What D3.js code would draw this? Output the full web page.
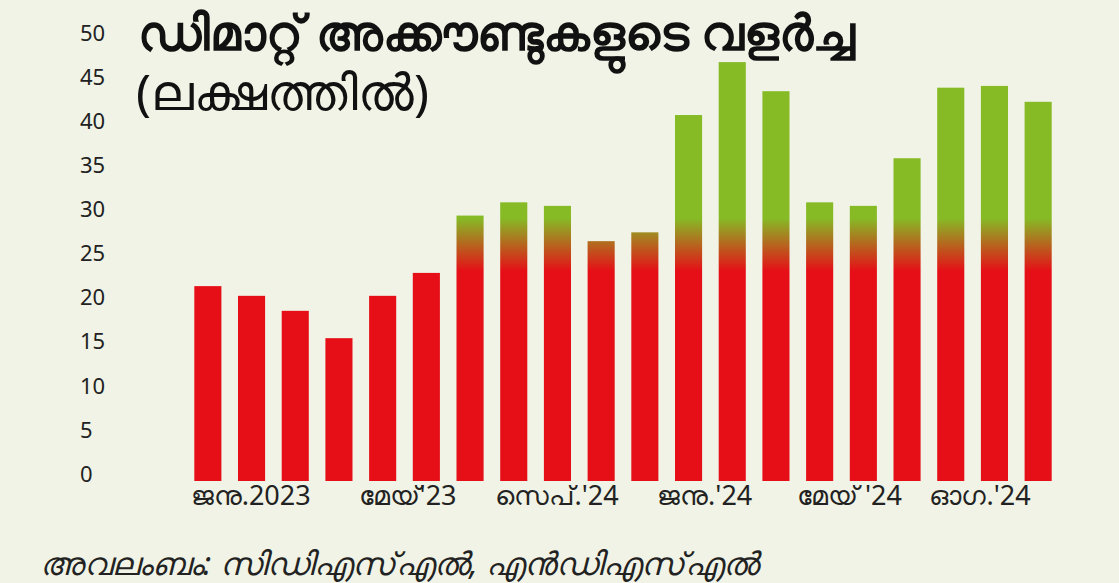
<!DOCTYPE html>
<html><head><meta charset="utf-8">
<script src="https://cdn.jsdelivr.net/npm/d3@7"></script>
<style>body{margin:0;background:#f0f3e5}</style>
</head><body><div id="chart"></div>
<script>
const values = [21.3, 20.2, 18.5, 15.4, 20.2, 22.8, 29.3, 30.8, 30.4, 26.4, 27.4, 40.7, 46.7, 43.4, 30.8, 30.4, 35.8, 43.8, 44.0, 42.2];
const labelText = ["ജനു.2023", "മേയ്'23", "സെപ്.'24", "ജനു.'24", "മേയ് '24", "ഓഗ.'24"];
const labelPos = [0.98, 4.57, 7.99, 11.37, 14.68, 17.67];
const yTicks = [0, 5, 10, 15, 20, 25, 30, 35, 40, 45, 50];

const width = 1119, height = 583;
const font = "'Noto Sans', 'DejaVu Sans', sans-serif";

const svg = d3.select('#chart').append('svg')
  .attr('width', width).attr('height', height)
  .style('background', '#f0f3e5');

const x = d3.scaleBand().domain(d3.range(values.length))
  .range([186, 1060]).paddingInner(0.38).paddingOuter(0.19);
const xi = d3.scaleLinear().domain([0, values.length - 1])
  .range([x(0) + x.bandwidth() / 2, x(values.length - 1) + x.bandwidth() / 2]);
const y = d3.scaleLinear().domain([0, 50]).range([474, 33]);
const base = 481;

const grad = svg.append('defs').append('linearGradient')
  .attr('id', 'g').attr('gradientUnits', 'userSpaceOnUse')
  .attr('x1', 0).attr('x2', 0).attr('y1', y(0)).attr('y2', y(50));
grad.append('stop').attr('offset', (y(0) - y(23)) / (y(0) - y(50))).attr('stop-color', '#e60f17');
grad.append('stop').attr('offset', (y(0) - y(29)) / (y(0) - y(50))).attr('stop-color', '#86bb26');

svg.append('g').selectAll('rect').data(values).join('rect')
  .attr('x', (d, i) => x(i)).attr('width', x.bandwidth())
  .attr('y', d => y(d)).attr('height', d => base - y(d))
  .attr('fill', 'url(#g)');

svg.append('g').selectAll('text').data(yTicks).join('text')
  .attr('x', 80).attr('y', d => y(d)).attr('dy', '0.35em')
  .attr('font-family', font).attr('font-size', 22).attr('fill', '#222')
  .text(d => d);

svg.append('g').selectAll('text').data(labelText).join('text')
  .attr('x', (d, i) => xi(labelPos[i])).attr('y', 505)
  .attr('text-anchor', 'middle')
  .attr('font-family', font).attr('font-size', 27).attr('fill', '#222')
  .text(d => d);

svg.append('text').attr('x', 138).attr('y', 50)
  .attr('font-family', font).attr('font-size', 49).attr('font-weight', 'bold')
  .attr('fill', '#111').text('ഡിമാറ്റ് അക്കൗണ്ടുകളുടെ വളർച്ച');
svg.append('text').attr('x', 136).attr('y', 110)
  .attr('font-family', font).attr('font-size', 50)
  .attr('fill', '#111').text('(ലക്ഷത്തിൽ)');
svg.append('text').attr('x', 40).attr('y', 575)
  .attr('font-family', font).attr('font-size', 32).attr('font-style', 'italic')
  .attr('fill', '#222').text('അവലംബം: സിഡിഎസ്എൽ, എൻഡിഎസ്എൽ');
</script></body></html>
